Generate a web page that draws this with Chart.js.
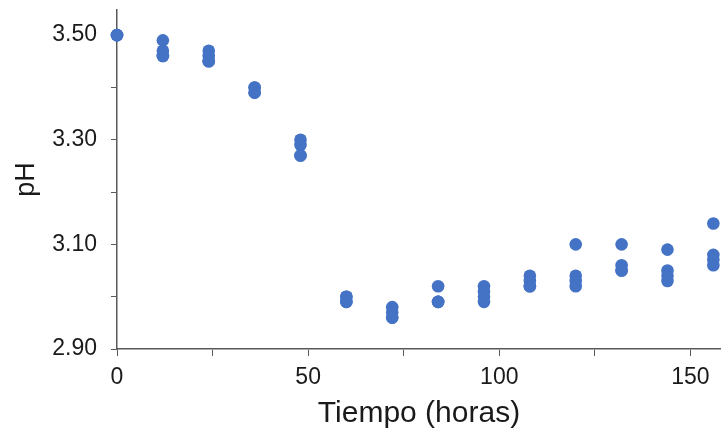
<!DOCTYPE html>
<html>
<head>
<meta charset="utf-8">
<script src="https://cdn.jsdelivr.net/npm/chart.js@4.4.1/dist/chart.umd.min.js"></script>
<style>
  html, body { margin: 0; padding: 0; background: #ffffff; }
  #wrap { width: 721px; height: 434px; position: relative; }
</style>
</head>
<body>
<div id="wrap"><canvas id="c" width="721" height="434"></canvas></div>
<script>
// Data
const hours = [0, 12, 24, 36, 48, 60, 72, 84, 96, 108, 120, 132, 144, 156];
const rep1 = [3.50, 3.49, 3.47, 3.40, 3.30, 3.00, 2.98, 3.02, 3.02, 3.04, 3.10, 3.10, 3.09, 3.14];
const rep2 = [3.50, 3.47, 3.46, 3.40, 3.29, 3.00, 2.97, 2.99, 3.01, 3.03, 3.04, 3.06, 3.05, 3.08];
const rep3 = [3.50, 3.46, 3.45, 3.39, 3.27, 2.99, 2.96, 2.99, 3.00, 3.02, 3.03, 3.05, 3.04, 3.07];
const rep4 = [3.50, 3.46, 3.45, 3.39, 3.27, 2.99, 2.96, 2.99, 2.99, 3.02, 3.02, 3.05, 3.03, 3.06];
const replicates = [rep1, rep2, rep3, rep4];

// Tick marks (major + minor) and the labelled ones
const xTickValues = [0, 25, 50, 75, 100, 125, 150];
const xLabels = [0, 50, 100, 150];
const yTickValues = [2.90, 3.00, 3.10, 3.20, 3.30, 3.40, 3.50];
const yLabels = [2.90, 3.10, 3.30, 3.50];

const xTitle = 'Tiempo (horas)';
const yTitle = 'pH';

const points = [];
replicates.forEach(rep => rep.forEach((v, i) => points.push({ x: hours[i], y: v })));

const axisColor = '#595959';
const textColor = '#1a1a1a';
const fam = 'Liberation Sans, Arial, sans-serif';

new Chart(document.getElementById('c'), {
  type: 'scatter',
  data: {
    datasets: [{
      data: points,
      backgroundColor: '#4472C4',
      borderColor: '#4472C4',
      borderWidth: 0,
      pointRadius: 6.3,
      pointHoverRadius: 6.3,
      clip: false
    }]
  },
  options: {
    responsive: false,
    animation: false,
    devicePixelRatio: 1,
    layout: { autoPadding: false, padding: { left: 0, right: 0, top: 10, bottom: 0 } },
    plugins: { legend: { display: false }, tooltip: { enabled: false } },
    scales: {
      x: {
        type: 'linear',
        min: 0,
        max: 158,
        afterBuildTicks: (axis) => { axis.ticks = xTickValues.map(v => ({ value: v })); },
        afterFit: (scale) => { scale.height = 85; scale.paddingLeft = 0; scale.paddingRight = 0; },
        ticks: {
          autoSkip: false,
          maxRotation: 0,
          padding: 8,
          color: textColor,
          font: { family: fam, size: 23 },
          callback: (v) => xLabels.includes(v) ? String(v) : ''
        },
        grid: { display: true, drawOnChartArea: false, drawTicks: true, tickLength: 7, color: axisColor, lineWidth: 1 },
        border: { display: true, color: axisColor, width: 1.5 },
        title: {
          display: true,
          text: xTitle,
          color: textColor,
          font: { family: fam, size: 30 },
          padding: { top: 0, bottom: 2 }
        }
      },
      y: {
        type: 'linear',
        min: 2.90,
        max: 3.548,
        afterBuildTicks: (axis) => { axis.ticks = yTickValues.map(v => ({ value: v })); },
        afterFit: (scale) => { scale.width = 117; scale.paddingTop = 0; scale.paddingBottom = 0; },
        ticks: {
          autoSkip: false,
          padding: 14,
          color: textColor,
          font: { family: fam, size: 23 },
          callback: (v) => yLabels.some(l => Math.abs(l - v) < 1e-6) ? v.toFixed(2) : ''
        },
        grid: { display: true, drawOnChartArea: false, drawTicks: true, tickLength: 6, color: axisColor, lineWidth: 1 },
        border: { display: true, color: axisColor, width: 1.5 },
        title: {
          display: true,
          text: yTitle,
          color: textColor,
          font: { family: fam, size: 27 },
          padding: { top: 10, bottom: 0 }
        }
      }
    }
  }
});
</script>
</body>
</html>
